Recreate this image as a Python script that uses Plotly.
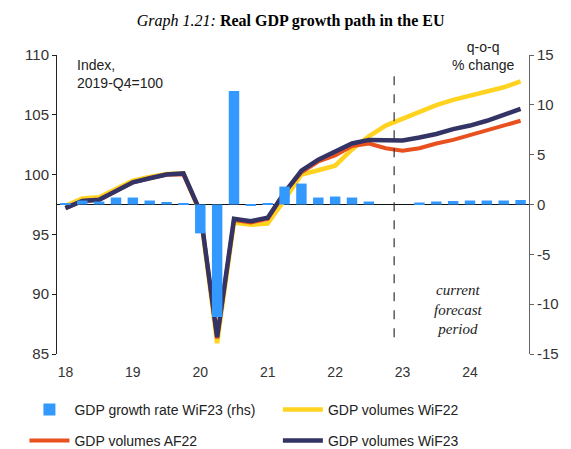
import plotly.graph_objects as go

# ---- data ----
quarters = [f"{y}Q{q}" for y in range(2018, 2025) for q in range(1, 5)]
x_idx = list(range(len(quarters)))

growth_wif23 = [0.1, 0.4, 0.3, 0.7, 0.7, 0.4, 0.25, 0.1,
                -2.9, -11.3, 11.4, -0.1, 0.1, 1.8, 2.1, 0.7,
                0.8, 0.7, 0.3, 0.0, 0.0, 0.2, 0.3, 0.35,
                0.4, 0.4, 0.4, 0.45]

vol_wif22 = [97.4, 98.0, 98.1, 98.8, 99.5, 99.8, 100.05, 100.1,
             96.8, 85.9, 96.0, 95.8, 95.9, 97.9, 100.0, 100.36,
             100.75, 102.1, 103.2, 104.1, 104.7, 105.3, 105.8, 106.25,
             106.6, 106.95, 107.3, 107.8]

vol_af22 = [97.2, 97.8, 97.9, 98.6, 99.35, 99.7, 100.0, 100.0,
            96.9, 86.3, 96.2, 96.0, 96.3, 98.5, 100.2, 101.1,
            101.6, 102.4, 102.6, 102.2, 102.0, 102.2, 102.6, 102.9,
            103.3, 103.7, 104.1, 104.5]

vol_wif23 = [97.2, 97.8, 97.9, 98.6, 99.36, 99.7, 100.0, 100.1,
             96.9, 86.4, 96.3, 96.1, 96.4, 98.5, 100.33, 101.25,
             101.9, 102.6, 102.9, 102.9, 102.86, 103.1, 103.4, 103.8,
             104.1, 104.5, 105.0, 105.5]

year_ticks = [0, 4, 8, 12, 16, 20, 24]
year_labels = ["18", "19", "20", "21", "22", "23", "24"]
year_bounds = [3.5, 7.5, 11.5, 15.5, 19.5, 23.5]
forecast_start = 19.5

left_ticks = [85, 90, 95, 100, 105, 110]
right_ticks = [-15, -10, -5, 0, 5, 10, 15]
right_labels = ["-15", "-10", "-5", "0", "5", "10", "15"]

BLUE = "#3399FF"
YELLOW = "#FFD320"
ORANGE = "#E8501E"
NAVY = "#333366"
SANS = "Liberation Sans, Arial, sans-serif"
SERIF = "Liberation Serif, Times New Roman, serif"

fig = go.Figure()
fig.add_trace(go.Bar(x=x_idx, y=growth_wif23, name="GDP growth rate WiF23 (rhs)",
                     marker=dict(color=BLUE, line=dict(width=0)), width=0.62,
                     yaxis="y2", legend="legend", showlegend=True))
fig.add_trace(go.Scatter(x=x_idx, y=vol_wif22, name="GDP volumes WiF22", mode="lines",
                         line=dict(color=YELLOW, width=4.5), legend="legend2",
                         showlegend=True))
fig.add_trace(go.Scatter(x=x_idx, y=vol_af22, name="GDP volumes AF22", mode="lines",
                         line=dict(color=ORANGE, width=4), legend="legend3",
                         showlegend=True))
fig.add_trace(go.Scatter(x=x_idx, y=vol_wif23, name="GDP volumes WiF23", mode="lines",
                         line=dict(color=NAVY, width=4.5), legend="legend4",
                         showlegend=True))

fig.add_shape(type="line", xref="x", yref="y", x0=forecast_start, x1=forecast_start,
              y0=86.4, y1=108.3, line=dict(color="#333333", width=1.2, dash="dash"))

def leg(x, y):
    return dict(orientation="h", x=x, xanchor="left", y=y, yanchor="middle",
                itemwidth=40, font=dict(size=14, color="#222222"),
                bgcolor="rgba(0,0,0,0)")

fig.update_layout(
    width=571, height=449,
    showlegend=True,
    margin=dict(l=57, r=42, t=55, b=95, autoexpand=False),
    plot_bgcolor="white", paper_bgcolor="white",
    font=dict(family=SANS, size=14, color="#222222"),
    title=dict(text="<i>Graph 1.21:</i> <b>Real GDP growth path in the EU</b>",
               font=dict(family=SERIF, size=16, color="black"),
               x=0.509, xanchor="center", y=0.955, yanchor="middle"),
    xaxis=dict(range=[-0.5, 27.5], tickmode="array", tickvals=year_ticks,
               ticktext=year_labels, ticks="", showline=False, showgrid=False,
               zeroline=False, ticklabelstandoff=8, tickfont=dict(size=14, color="#333333")),
    xaxis2=dict(range=[-0.5, 27.5], overlaying="x", anchor="free", position=0.5,
                tickmode="array", tickvals=year_bounds, ticks="inside", ticklen=5,
                tickcolor="#222222", tickwidth=1, showticklabels=False, showline=False,
                showgrid=False, zeroline=False),
    yaxis=dict(range=[85, 110], tickmode="array", tickvals=left_ticks, ticks="outside",
               ticklen=4, tickcolor="#222222", showline=True, linecolor="#222222",
               linewidth=1, showgrid=False, zeroline=False,
               tickfont=dict(size=15, color="#333333")),
    yaxis2=dict(range=[-15, 15], tickmode="array", tickvals=right_ticks,
                ticktext=right_labels, overlaying="y",
                side="right", ticks="outside", ticklen=4, tickcolor="#666666",
                showline=True, linecolor="#666666", linewidth=1, showgrid=False,
                zeroline=True, zerolinecolor="#111111", zerolinewidth=1.3,
                tickfont=dict(size=15, color="#333333")),
    legend=leg(-0.069, -0.187),
    legend2=leg(0.468, -0.187),
    legend3=leg(-0.069, -0.291),
    legend4=leg(0.468, -0.291),
    annotations=[
        dict(text="Index,<br>2019-Q4=100", xref="paper", yref="paper", x=0.038, y=1.0,
             xanchor="left", yanchor="top", align="left", showarrow=False,
             font=dict(size=14, color="#222222")),
        dict(text="q-o-q<br>% change", xref="paper", yref="paper", x=0.9025, y=1.06,
             xanchor="center", yanchor="top", align="center", showarrow=False,
             font=dict(size=14, color="#222222")),
        dict(text="<i>current<br>forecast<br>period</i>", xref="paper", yref="paper",
             x=0.8496, y=0.1505, xanchor="center", yanchor="middle", align="center",
             showarrow=False, font=dict(family=SERIF, size=15, color="#222222")),
    ],
)

fig.write_html("out.html", config={"displayModeBar": False},
               post_script="document.body.style.margin='0';")
